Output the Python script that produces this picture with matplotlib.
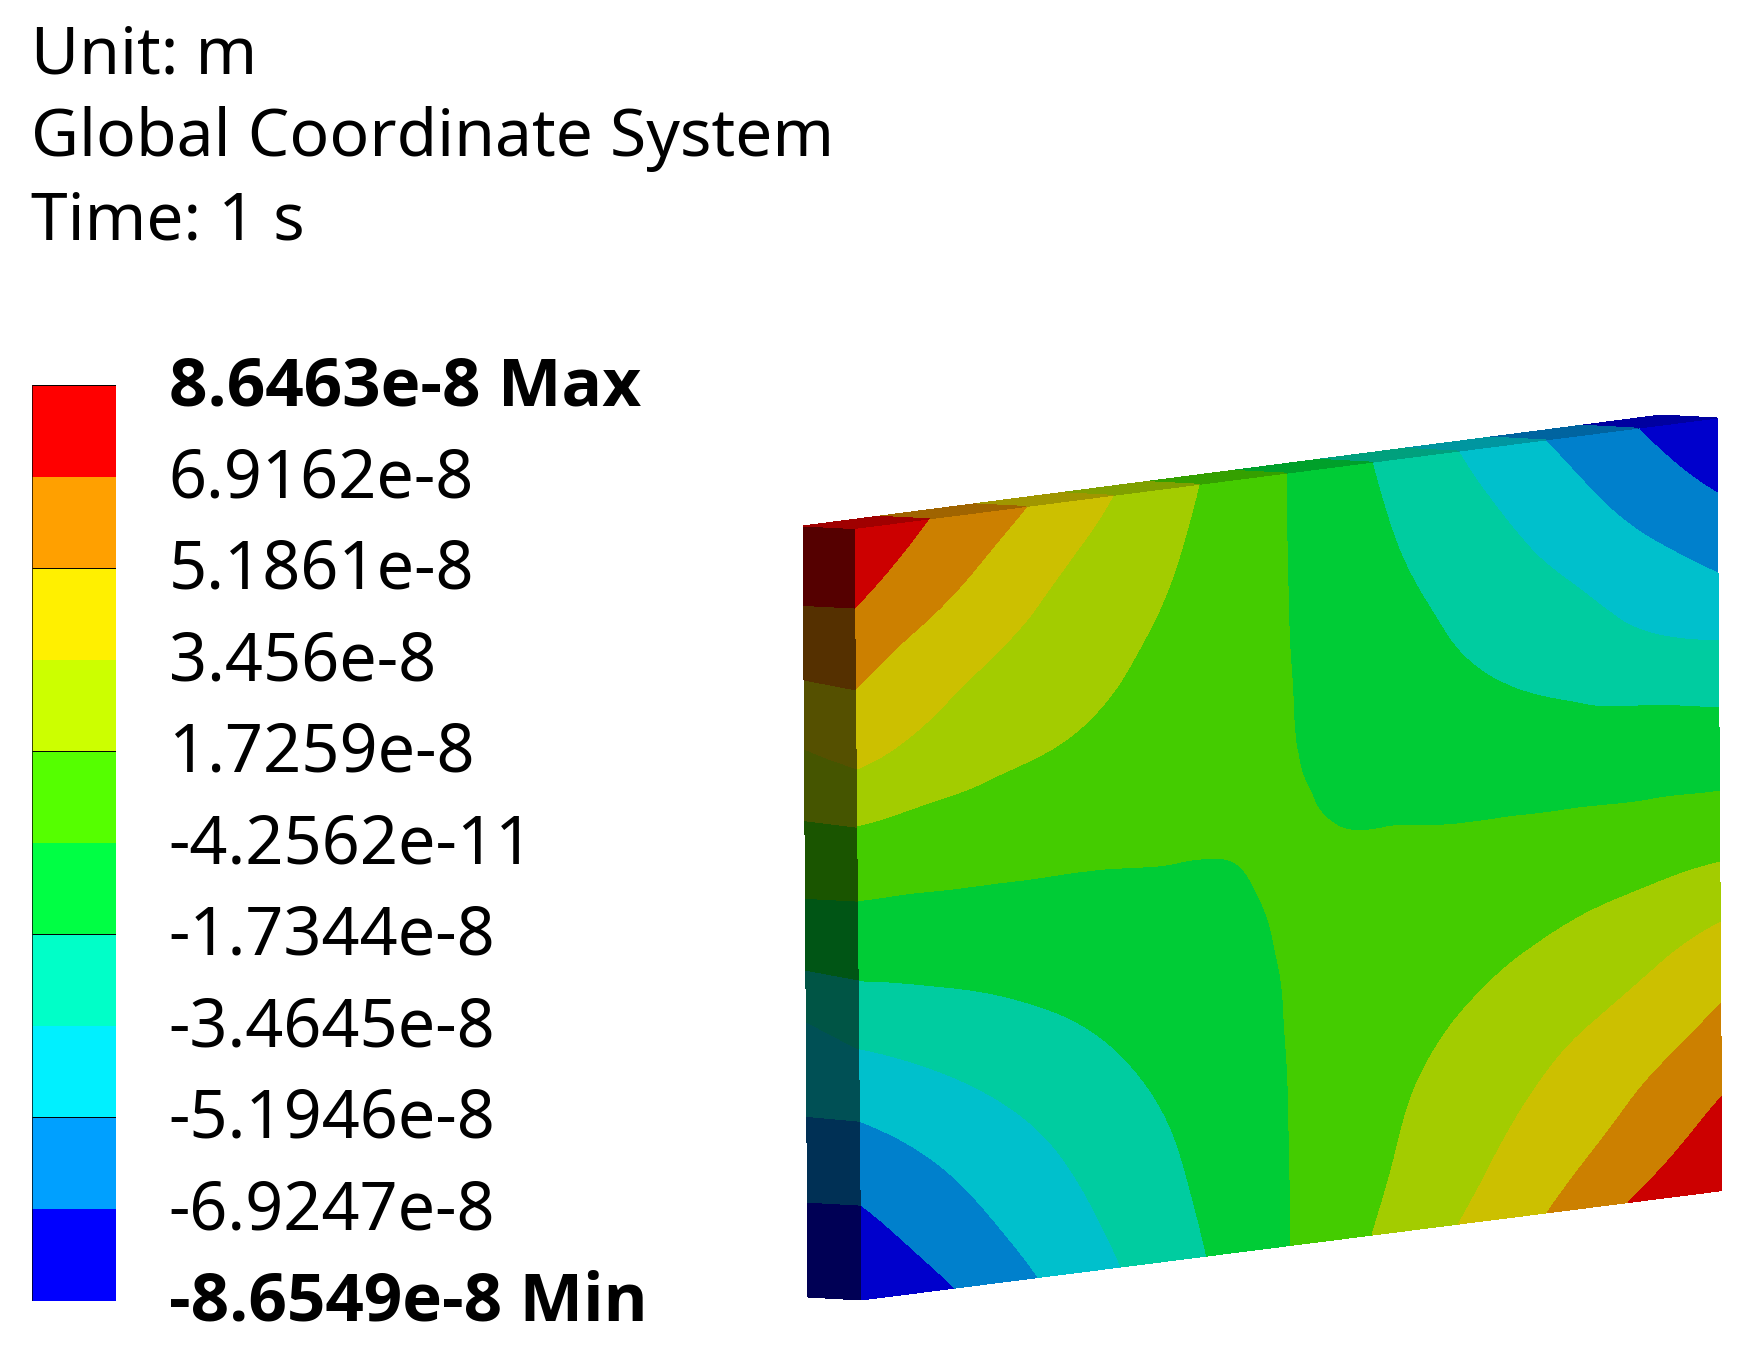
import numpy as np
import matplotlib
matplotlib.use('Agg')
import matplotlib.pyplot as plt
import matplotlib.colors as mcolors
import matplotlib.cm as cm
import matplotlib.tri as mtri
import matplotlib.transforms as mtrans
from matplotlib import font_manager

plt.rcParams['font.family'] = ['Noto Sans', 'DejaVu Sans']

# header text
info_lines = ['Unit: m', 'Global Coordinate System', 'Time: 1 s']

# contour levels, low to high
levels = [-8.6549e-8, -6.9247e-8, -5.1946e-8, -3.4645e-8, -1.7344e-8, -4.2562e-11,
          1.7259e-8, 3.456e-8, 5.1861e-8, 6.9162e-8, 8.6463e-8]
level_labels = ['-8.6549e-8 Min', '-6.9247e-8', '-5.1946e-8', '-3.4645e-8', '-1.7344e-8', '-4.2562e-11',
                '1.7259e-8', '3.456e-8', '5.1861e-8', '6.9162e-8', '8.6463e-8 Max']

# band colours on the legend, the lit front, the top and the dark side
legend_colors = ['#0000ff', '#00a0ff', '#00f0ff', '#00ffc8', '#00ff44',
                 '#55ff00', '#ccff00', '#fff000', '#ffa000', '#ff0000']
front_colors = ['#0000cc', '#0080cc', '#00c0cc', '#00cca0', '#00cc36',
                '#44cc00', '#a3cc00', '#ccc000', '#cc8000', '#cc0000']
top_colors = ['#0000a0', '#0064a0', '#0096a0', '#00a07d', '#00a02a',
              '#35a000', '#80a000', '#a09600', '#a06400', '#a00000']
side_colors = ['#000055', '#003055', '#005055', '#005545', '#005515',
               '#1a5500', '#455500', '#555000', '#553000', '#550000']

# plate position read across (u) and down (v) the front face
u_read = [-1, -.85, -.7, -.55, -.4, -.25, -.12, 0, .12, .25, .4, .55, .7, .85, 1]
v_read = [-1, -.85, -.7, -.55, -.4, -.25, -.12, 0, .12, .25, .4, .55, .7, .85, 1]

# displacement on the front face, in 1e-8 m, one row per v_read
front_values = [
    [8.65, 7.10, 6.00, 4.76, 3.46, 2.16, 1.04, .01, -1.04, -2.16, -3.46, -4.76, -6.00, -7.20, -8.65],
    [7.38, 6.12, 5.00, 3.82, 2.83, 1.81, .89, .01, -.89, -1.83, -2.89, -3.94, -5.10, -6.20, -7.30],
    [6.14, 5.00, 4.05, 3.11, 2.32, 1.50, .74, .02, -.74, -1.52, -2.39, -3.25, -4.20, -5.15, -6.05],
    [4.93, 3.94, 3.17, 2.51, 1.87, 1.20, .59, .03, -.59, -1.21, -1.92, -2.60, -3.30, -4.05, -4.75],
    [3.72, 3.03, 2.45, 1.94, 1.43, .91, .45, .05, -.45, -.92, -1.46, -2.00, -2.55, -2.95, -3.20],
    [1.95, 1.63, 1.33, 1.04, .77, .49, .25, .05, -.23, -.49, -.77, -1.04, -1.33, -1.50, -1.73],
    [.74, .63, .52, .41, .30, .19, .15, .12, -.09, -.17, -.30, -.41, -.52, -.63, -.74],
    [-.30, -.26, -.21, -.17, -.12, -.06, -.01, .15, .11, .10, .12, .17, .21, .26, .30],
    [-1.25, -1.06, -.88, -.69, -.50, -.31, -.15, .12, .20, .31, .50, .69, .88, 1.15, 1.40],
    [-2.51, -2.13, -1.76, -1.38, -1.00, -.63, -.30, .08, .32, .63, 1.00, 1.38, 1.85, 2.35, 2.88],
    [-3.94, -3.35, -2.76, -2.17, -1.58, -.99, -.47, .05, .47, .98, 1.55, 2.12, 2.75, 3.45, 4.25],
    [-5.32, -4.52, -3.72, -2.93, -2.13, -1.33, -.64, .03, .64, 1.31, 2.08, 2.82, 3.60, 4.40, 5.45],
    [-6.54, -5.56, -4.58, -3.60, -2.62, -1.64, -.78, .02, .78, 1.62, 2.55, 3.45, 4.40, 5.40, 6.50],
    [-7.61, -6.47, -5.33, -4.19, -3.04, -1.90, -.91, .01, .91, 1.88, 2.97, 4.07, 5.15, 6.30, 7.61],
    [-8.65, -7.50, -6.20, -4.85, -3.50, -2.20, -1.05, .01, 1.10, 2.30, 3.55, 4.80, 6.15, 7.50, 8.65],
]
# displacement down the outer edge of the side face
side_outer = [8.65, 7.38, 6.14, 4.70, 3.25, 1.85, .74, -.30, -1.25, -3.20, -4.30, -5.32, -6.54, -7.61, -8.65]

# corners of the faces in image pixels
front_corners = [(854, 528.5), (1717, 418), (1722, 1190.6), (861, 1300)]
side_corners = [(803, 526), (854, 528.5), (861, 1300), (808, 1297)]
top_corners = [(803, 526), (1661, 415), (1717, 418), (854, 528.5)]

W, H = 1748, 1346
fig = plt.figure(figsize=(W / 100, H / 100), dpi=100)
ax = fig.add_axes([0, 0, 1, 1])
ax.set_xlim(0, W)
ax.set_ylim(H, 0)
ax.axis('off')


def place(corners, a, b):
    # a, b are fractions along the quad
    c = np.array(corners, dtype=float)
    px = (1 - a) * (1 - b) * c[0, 0] + a * (1 - b) * c[1, 0] + a * b * c[2, 0] + (1 - a) * b * c[3, 0]
    py = (1 - a) * (1 - b) * c[0, 1] + a * (1 - b) * c[1, 1] + a * b * c[2, 1] + (1 - a) * b * c[3, 1]
    return px, py


Z = np.array(front_values) * 1e-8
a = (np.array(u_read) + 1) / 2
b = (np.array(v_read) + 1) / 2

# front, smoothed by matplotlib's own mesh refiner
A, B = np.meshgrid(a, b)
tri = mtri.Triangulation(A.ravel(), B.ravel())
refiner = mtri.UniformTriRefiner(tri)
fine, z_fine = refiner.refine_field(Z.ravel(), subdiv=3)
fine_x, fine_y = place(front_corners, fine.x, fine.y)
fine_tri = mtri.Triangulation(fine_x, fine_y, fine.triangles)
ax.tricontourf(fine_tri, np.clip(z_fine, levels[0], levels[-1]), levels=levels, colors=front_colors)

# side
A, B = np.meshgrid([0, 1], b)
X, Y = place(side_corners, A, B)
Z_side = np.column_stack([np.array(side_outer) * 1e-8, Z[:, 0]])
ax.contourf(X, Y, np.clip(Z_side, levels[0], levels[-1]), levels=levels, colors=side_colors)

# top, back edge first
A, B = np.meshgrid(a, [0, 1])
X, Y = place(top_corners, A, B)
Z_top = np.vstack([Z[0], Z[0]])
ax.contourf(X, Y, np.clip(Z_top, levels[0], levels[-1]), levels=levels, colors=top_colors)

# header
for line, y in zip(info_lines, [73, 156, 239]):
    ax.text(31, y, line, fontsize=47.5, color='black', va='baseline', ha='left')

# legend
cax = fig.add_axes([32.3 / W, 1 - 1300.5 / H, 83.7 / W, (1300.5 - 385) / H])
norm = mcolors.BoundaryNorm(levels, len(legend_colors))
cmap = mcolors.ListedColormap(legend_colors)
cb = fig.colorbar(cm.ScalarMappable(norm=norm, cmap=cmap), cax=cax, spacing='uniform', ticks=levels, drawedges=False)
cb.ax.set_yticklabels(level_labels)
cb.ax.tick_params(length=0, pad=38, labelsize=48)
cb.outline.set_visible(False)

# first family that really ships a bold face
bold_family = 'DejaVu Sans'
have_bold = {f.name for f in font_manager.fontManager.ttflist if f.weight in (700, 'bold')}
for name in ['Noto Sans', 'Open Sans', 'Lato', 'Roboto', 'Inter', 'Liberation Sans']:
    if name in have_bold:
        bold_family = name
        break

nudge = mtrans.Affine2D().translate(0, -2.5)
for lab in cb.ax.get_yticklabels():
    lab.set_verticalalignment('center')
    lab.set_transform(lab.get_transform() + nudge)
    if 'M' in lab.get_text():
        lab.set_family(bold_family)
        lab.set_fontweight('bold')
        lab.set_fontsize(48.5)
# only every other band edge shows a line
cb.ax.hlines(levels[::2], 0, 1, transform=cb.ax.get_yaxis_transform(), colors='black', lw=0.7)
cb.ax.axvline(0, color='black', lw=0.5)

plt.savefig('out.png', dpi=100)
